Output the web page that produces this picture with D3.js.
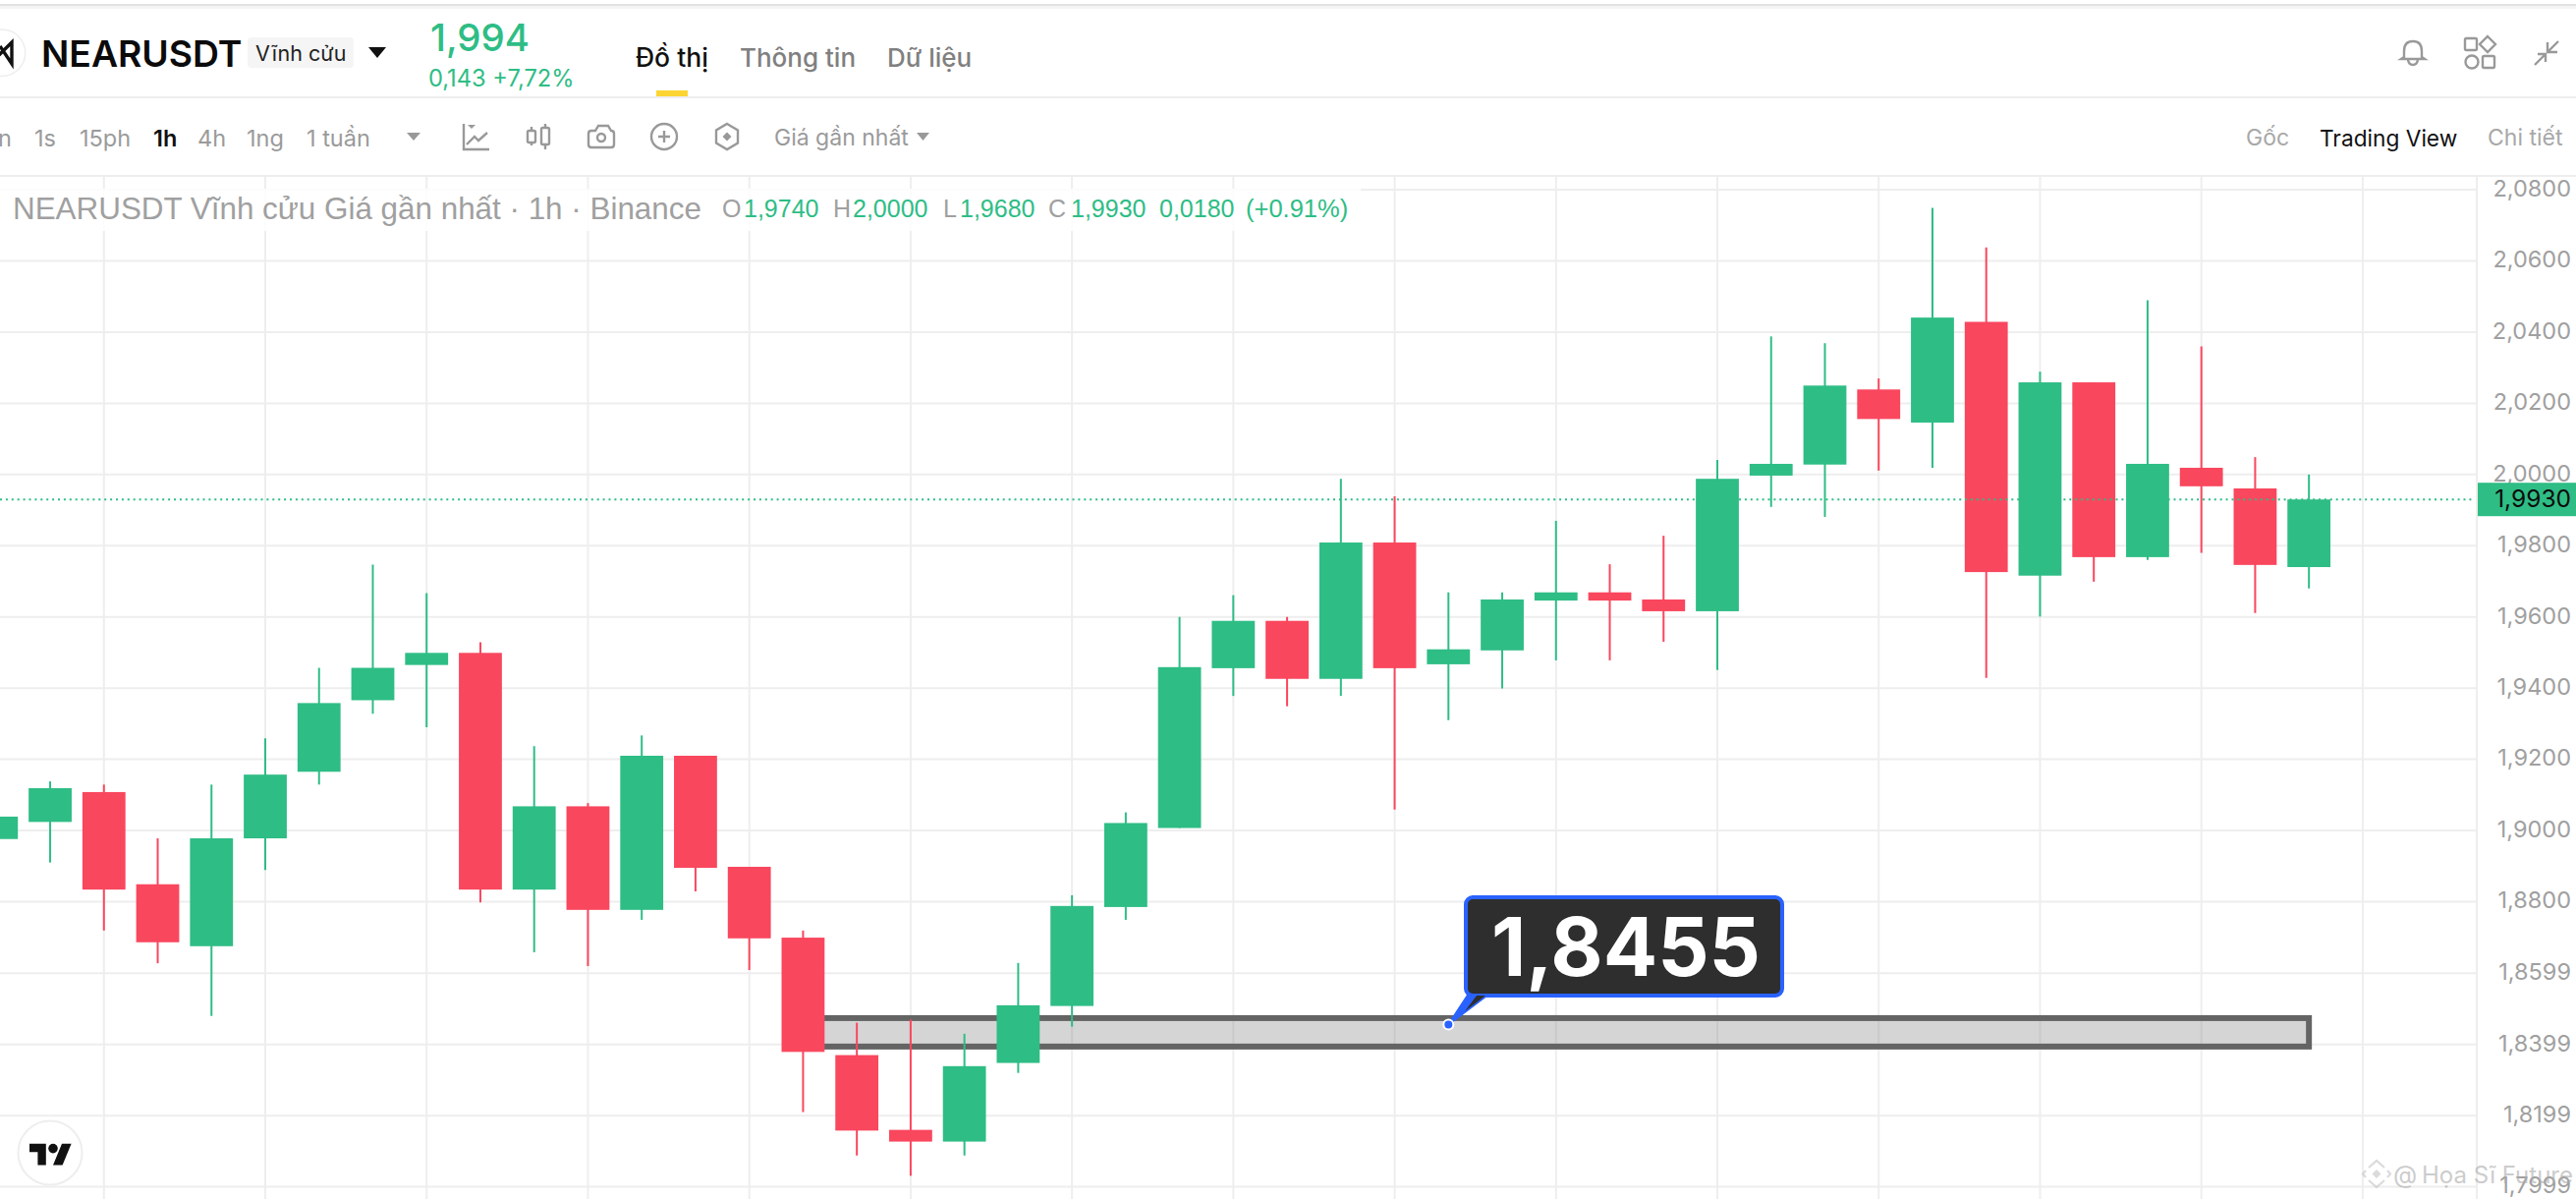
<!DOCTYPE html>
<html>
<head>
<meta charset="utf-8">
<script src="https://cdn.jsdelivr.net/npm/d3@7"></script>
<style>
  html, body { margin: 0; padding: 0; background: #fff; overflow: hidden; }
  svg { display: block; }
  text { font-family: Inter, "Noto Sans", sans-serif; }
</style>
</head>
<body>
<script>
// candle values, oldest first
const opens = [1.8976,1.9024,1.9108,1.8849,1.8675,1.8978,1.9165,1.9366,1.9465,1.9499,1.8834,1.9068,1.8777,1.9210,1.8898,1.8699,1.8369,1.8159,1.8126,1.8347,1.8507,1.8785,1.9007,1.9456,1.9589,1.9426,1.9809,1.9467,1.9506,1.9646,1.9669,1.9649,1.9616,1.9997,2.0028,2.0239,2.0146,2.0429,1.9716,2.0259,1.9768,2.0019,1.9961,1.9740];
const highs = [1.9039,1.9138,1.9129,1.8978,1.9129,1.9259,1.9457,1.9747,1.9667,1.9529,1.9237,1.9077,1.9267,1.9210,1.8898,1.8719,1.8460,1.8469,1.8429,1.8628,1.8818,1.9051,1.9600,1.9661,1.9600,1.9988,1.9939,1.9669,1.9669,1.9870,1.9748,1.9828,2.0041,2.0388,2.0369,2.0270,2.0749,2.0638,2.0289,2.0259,2.0490,2.0360,2.0049,2.0000];
const lows = [1.8976,1.8910,1.8719,1.8627,1.8479,1.8889,1.9129,1.9328,1.9290,1.8798,1.8658,1.8619,1.8749,1.8829,1.8608,1.8209,1.8087,1.8030,1.8087,1.8319,1.8449,1.8749,1.9007,1.9378,1.9349,1.9378,1.9059,1.9310,1.9399,1.9478,1.9478,1.9530,1.9451,1.9909,1.9881,2.0011,2.0019,1.9429,1.9601,1.9699,1.9760,1.9780,1.9611,1.9680];
const closes = [1.9039,1.9119,1.8834,1.8686,1.8978,1.9157,1.9358,1.9457,1.9499,1.8834,1.9068,1.8777,1.9210,1.8895,1.8697,1.8378,1.8157,1.8126,1.8338,1.8509,1.8788,1.9021,1.9459,1.9589,1.9426,1.9809,1.9456,1.9509,1.9649,1.9669,1.9646,1.9616,1.9988,2.0030,2.0250,2.0156,2.0441,1.9726,2.0259,1.9768,2.0030,1.9967,1.9746,1.9930];

// price axis
const priceTicks = [2.08,2.06,2.04,2.02,2.00,1.98,1.96,1.94,1.92,1.90,1.88,1.8599,1.8399,1.8199,1.7999];
// every third candle has a vertical grid line
const gridCandles = [2,5,8,11,14,17,20,23,26,29,32,35,38,41,44];

const lastPrice = 1.9930;
const zoneTop = 1.8473, zoneBottom = 1.8393, zoneFrom = 15, zoneTo = 43;
const noteCandle = 27, notePrice = 1.8455;

const green = "#2EBD85", red = "#F9475E", gridColor = "#EEEEEE", grey = "#A0A0A0";
const width = 2622, height = 1220;
const axisX = 2521;

const svg = d3.select("body").append("svg")
  .attr("width", width)
  .attr("height", height);

const x = d3.scaleLinear().domain([0, 44]).range([-3.7, 2404.9]);
const y = d3.scaleLinear().domain([2.08, 1.7999]).range([193.1, 1207.6]);
const commaFormat = v => d3.format(".4f")(v).replace(".", ",");

// small helper for all the page text
function label(parent, px, py, str, size, fill, opts = {}) {
  return parent.append("text")
    .attr("x", px).attr("y", py)
    .attr("font-size", size)
    .attr("fill", fill)
    .attr("font-weight", opts.weight || 400)
    .attr("text-anchor", opts.anchor || "start")
    .attr("dominant-baseline", "central")
    .style("font-family", opts.font || null)
    .text(str);
}

// ---- page chrome ----
const chrome = svg.append("g");
chrome.append("rect").attr("x", 0).attr("y", 4).attr("width", width).attr("height", 2).attr("fill", "#E2E2E2");
chrome.append("rect").attr("x", 0).attr("y", 6).attr("width", width).attr("height", 3).attr("fill", "#F4F4F4");
chrome.append("rect").attr("x", 0).attr("y", 98).attr("width", width).attr("height", 2).attr("fill", gridColor);
chrome.append("rect").attr("x", 0).attr("y", 178).attr("width", width).attr("height", 2).attr("fill", gridColor);

// coin logo, cut by the left edge
chrome.append("circle").attr("cx", 2).attr("cy", 53.7).attr("r", 23.7).attr("fill", "#fff").attr("stroke", "#EEEEEE").attr("stroke-width", 1.5);
chrome.append("path").attr("d", "M-1 56L12 43V65L0 47").attr("fill", "none").attr("stroke", "#111").attr("stroke-width", 3.4);

label(chrome, 42, 54, "NEARUSDT", 37.3, "#0B0B0B", { weight: 600 });
chrome.append("rect").attr("x", 252).attr("y", 38).attr("width", 108).attr("height", 31).attr("rx", 4).attr("fill", "#F5F5F5");
label(chrome, 260, 54, "Vĩnh cửu", 21.5, "#222");
chrome.append("path").attr("d", "M375 48H393L384 59Z").attr("fill", "#111");
label(chrome, 438, 38, "1,994", 38.5, green, { weight: 500 });
label(chrome, 436, 79, "0,143 +7,72%", 23.7, green);

label(chrome, 647, 58, "Đồ thị", 26.5, "#111", { weight: 500 });
label(chrome, 753, 58, "Thông tin", 26, "#808080", { weight: 500 });
label(chrome, 903, 58, "Dữ liệu", 26, "#808080", { weight: 500 });
chrome.append("rect").attr("x", 668).attr("y", 92).attr("width", 32).attr("height", 6).attr("fill", "#FCD535");

// toolbar
label(chrome, -2, 140, "n", 23.5, "#9A9A9A");
label(chrome, 35, 140, "1s", 23.5, "#9A9A9A");
label(chrome, 81, 140, "15ph", 23.5, "#9A9A9A");
label(chrome, 156, 140, "1h", 23.5, "#111", { weight: 600 });
label(chrome, 201, 140, "4h", 23.5, "#9A9A9A");
label(chrome, 251, 140, "1ng", 23.5, "#9A9A9A");
label(chrome, 312, 140, "1 tuần", 23.5, "#9A9A9A");
chrome.append("path").attr("d", "M414 135H428L421 143Z").attr("fill", "#999");

const icons = chrome.append("g").attr("fill", "none").attr("stroke", "#999").attr("stroke-width", 2.4);
icons.append("path").attr("d", "M472 126V152H498M475 147L483 139L487 143L496 135");
icons.append("path").attr("d", "M476 127H484L480 131Z").attr("fill", "#999").attr("stroke", "none");
icons.append("path").attr("d", "M541 129V148M555 126V152");
icons.append("rect").attr("x", 537).attr("y", 133).attr("width", 8).attr("height", 12).attr("rx", 1.5).attr("fill", "#fff");
icons.append("rect").attr("x", 551).attr("y", 130).attr("width", 8).attr("height", 17).attr("rx", 1.5).attr("fill", "#fff");
icons.append("path").attr("d", "M602 133H606L609 128H619L622 133H622Q625 133 625 136V147Q625 150 622 150H602Q599 150 599 147V136Q599 133 602 133Z");
icons.append("circle").attr("cx", 612).attr("cy", 140).attr("r", 4);
icons.append("circle").attr("cx", 676).attr("cy", 139).attr("r", 13);
icons.append("path").attr("d", "M670 139H682M676 133V145");
icons.append("path").attr("d", "M740 126L751 132.500V145.500L740 152L729 145.500V132.500Z");
icons.append("path").attr("d", "M740 134.500L744.500 139L740 143.500L735.500 139Z").attr("fill", "#999").attr("stroke", "none");
label(chrome, 788, 140, "Giá gần nhất", 23, "#9A9A9A");
chrome.append("path").attr("d", "M933 135H946L939.500 143Z").attr("fill", "#999");

label(chrome, 2286, 140, "Gốc", 23, "#A8A8A8");
label(chrome, 2361, 140, "Trading View", 22.7, "#111");
label(chrome, 2532, 140, "Chi tiết", 23, "#A8A8A8");

// top right icons
icons.append("path").attr("d", "M2447 58V52Q2447 42 2456 42Q2465 42 2465 52V58L2468 60H2444ZM2451 61Q2452 66 2456 66Q2460 66 2461 61");
icons.append("rect").attr("x", 2509).attr("y", 39).attr("width", 12).attr("height", 12).attr("rx", 1.5);
icons.append("path").attr("d", "M2532 37L2540 45L2532 53L2524 45Z");
icons.append("circle").attr("cx", 2516).attr("cy", 63).attr("r", 6.500);
icons.append("rect").attr("x", 2527).attr("y", 57).attr("width", 12).attr("height", 12).attr("rx", 1.5);
icons.append("path").attr("d", "M2580 66L2590 56M2583 55H2591V63M2604 42L2594 52M2593 43V53H2603");

// ---- grid ----
const grid = svg.append("g").attr("stroke", gridColor).attr("stroke-width", 2);
grid.selectAll("line.h").data(priceTicks).enter().append("line")
  .attr("class", "h")
  .attr("x1", 0).attr("x2", axisX)
  .attr("y1", d => y(d)).attr("y2", d => y(d));
grid.selectAll("line.v").data(gridCandles).enter().append("line")
  .attr("class", "v")
  .attr("x1", d => x(d)).attr("x2", d => x(d))
  .attr("y1", 180).attr("y2", height);
grid.append("line").attr("x1", axisX).attr("x2", axisX).attr("y1", 180).attr("y2", height);

// ---- drawn zone, under the candles ----
svg.append("rect")
  .attr("x", x(zoneFrom))
  .attr("y", y(zoneTop))
  .attr("width", x(zoneTo) - x(zoneFrom))
  .attr("height", y(zoneBottom) - y(zoneTop))
  .attr("fill", "rgba(128,128,128,0.33)")
  .attr("stroke", "#646464")
  .attr("stroke-width", 6);

// ---- candles ----
const indexes = d3.range(opens.length);
const bodyWidth = (x(1) - x(0)) * 0.8;
const candleColor = i => closes[i] >= opens[i] ? green : red;

const candles = svg.append("g").selectAll("g").data(indexes).enter().append("g");
candles.append("line")
  .attr("x1", i => x(i)).attr("x2", i => x(i))
  .attr("y1", i => y(highs[i])).attr("y2", i => y(lows[i]))
  .attr("stroke", candleColor)
  .attr("stroke-width", 2);
candles.append("rect")
  .attr("x", i => x(i) - bodyWidth / 2)
  .attr("y", i => y(Math.max(opens[i], closes[i])))
  .attr("width", bodyWidth)
  .attr("height", i => Math.abs(y(opens[i]) - y(closes[i])))
  .attr("fill", candleColor);

// last price line
svg.append("line")
  .attr("x1", 0).attr("x2", axisX - 3)
  .attr("y1", y(lastPrice)).attr("y2", y(lastPrice))
  .attr("stroke", green)
  .attr("stroke-width", 2)
  .attr("stroke-dasharray", "2 3.9");

// ---- legend row ----
svg.append("rect").attr("x", 0).attr("y", 192).attr("width", 1385).attr("height", 43).attr("fill", "#fff").attr("opacity", 0.82);
const liberation = "Liberation Sans";
const legend = svg.append("g");
label(legend, 13, 212, "NEARUSDT Vĩnh cửu Giá gần nhất · 1h · Binance", 31.4, grey, { font: liberation });
label(legend, 735, 212, "O", 25, grey, { font: liberation });
label(legend, 757, 212, "1,9740", 25, green, { font: liberation });
label(legend, 848, 212, "H", 25, grey, { font: liberation });
label(legend, 868, 212, "2,0000", 25, green, { font: liberation });
label(legend, 960, 212, "L", 25, grey, { font: liberation });
label(legend, 977, 212, "1,9680", 25, green, { font: liberation });
label(legend, 1067, 212, "C", 25, grey, { font: liberation });
label(legend, 1090, 212, "1,9930", 25, green, { font: liberation });
label(legend, 1180, 212, "0,0180", 25, green, { font: liberation });
label(legend, 1268, 212, "(+0.91%)", 25.5, green, { font: liberation });

// ---- callout ----
const noteX = x(noteCandle), noteY = y(notePrice);
const note = svg.append("g");
note.append("path")
  .attr("d", `M${noteX} ${noteY}L1495 1011H1516Z`)
  .attr("fill", "#2962FF")
  .attr("stroke", "#2962FF")
  .attr("stroke-width", 2);
note.append("rect")
  .attr("x", 1492).attr("y", 913)
  .attr("width", 322).attr("height", 100)
  .attr("rx", 7)
  .attr("fill", "#2E2E2E")
  .attr("stroke", "#2962FF")
  .attr("stroke-width", 4);
note.append("path").attr("d", "M1491 1029L1503 1013H1512Z").attr("fill", "#2E2E2E");
note.append("circle")
  .attr("cx", noteX).attr("cy", noteY).attr("r", 5)
  .attr("fill", "#2962FF")
  .attr("stroke", "#fff")
  .attr("stroke-width", 2);
label(note, 1655, 963, commaFormat(notePrice), 82, "#fff", { weight: 700, anchor: "middle" });

// tradingview mark
const tv = svg.append("g");
tv.append("circle").attr("cx", 51).attr("cy", 1173).attr("r", 32.500).attr("fill", "#fff").attr("stroke", "#EEEEEE").attr("stroke-width", 2);
const tvLogo = tv.append("g").attr("transform", "translate(30,1159) scale(1.2)").attr("fill", "#111");
tvLogo.append("path").attr("d", "M14 22H7V11H0V4h14v18zM28 22h-8l7.500-18h8L28 22z");
tvLogo.append("circle").attr("cx", 20).attr("cy", 8).attr("r", 4);

// ---- price axis ----
const priceAxis = svg.append("g")
  .attr("transform", "translate(2617,0)")
  .call(d3.axisRight(y).tickValues(priceTicks).tickFormat(commaFormat).tickSize(0).tickPadding(0));
priceAxis.select(".domain").remove();
priceAxis.selectAll("text")
  .attr("text-anchor", "end")
  .attr("font-size", 23.5)
  .attr("dy", "0.27em")
  .attr("fill", grey)
  .style("font-family", "Inter");

// last price tag
svg.append("rect").attr("x", 2522).attr("y", y(lastPrice) - 17).attr("width", 100).attr("height", 34).attr("fill", green);
label(svg, 2617, y(lastPrice) - 1, commaFormat(lastPrice), 24.5, "#0B0B0B", { anchor: "end" });

// ---- watermark ----
const mark = svg.append("g").attr("opacity", 0.6);
const markDiamonds = mark.append("g").attr("fill", "none").attr("stroke", "#C4C4C4").attr("stroke-width", 2.2);
markDiamonds.append("path").attr("d", "M2411 1188L2419 1181L2427 1188");
markDiamonds.append("path").attr("d", "M2411 1201L2419 1208L2427 1201");
markDiamonds.append("path").attr("d", "M2408 1191L2405 1194.500L2408 1198");
markDiamonds.append("path").attr("d", "M2430 1191L2433 1194.500L2430 1198");
mark.append("path").attr("d", "M2419 1190L2423.500 1194.500L2419 1199L2414.500 1194.500Z").attr("fill", "#C4C4C4");
label(mark, 2436, 1195, "@", 25, "#ABABAB");
label(mark, 2465, 1195, "Họa Sĩ Future", 24, "#ABABAB");
</script>
</body>
</html>
